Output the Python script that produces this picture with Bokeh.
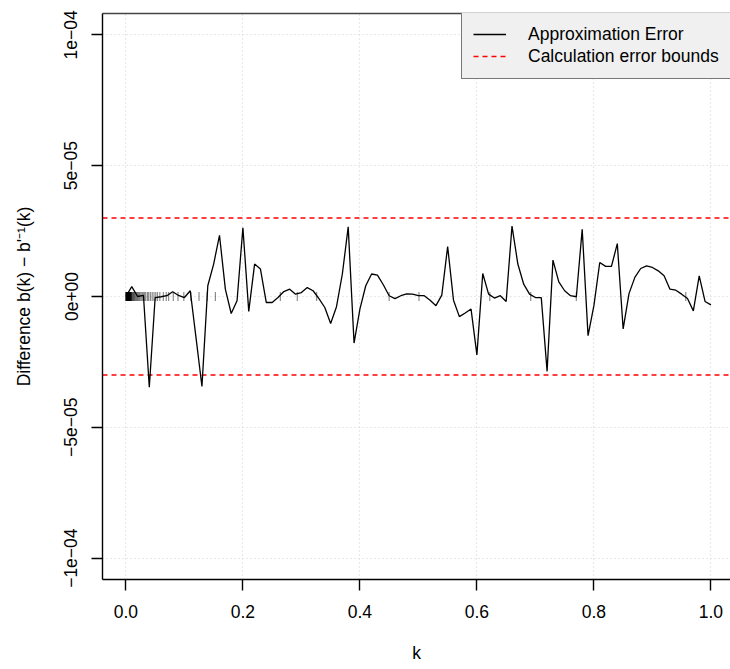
import numpy as np
from bokeh.plotting import figure
from bokeh.models import (FixedTicker, CustomJSTickFormatter, LinearAxis, Legend,
                          LegendItem, Range1d)
from bokeh.embed import file_html
from bokeh.resources import INLINE

# ---------------- data ----------------
k_values = [0.00, 0.01, 0.02, 0.03, 0.04, 0.05, 0.06, 0.07, 0.08, 0.09,
            0.10, 0.11, 0.12, 0.13, 0.14, 0.15, 0.16, 0.17, 0.18, 0.19,
            0.20, 0.21, 0.22, 0.23, 0.24, 0.25, 0.26, 0.27, 0.28, 0.29,
            0.30, 0.31, 0.32, 0.33, 0.34, 0.35, 0.36, 0.37, 0.38, 0.39,
            0.40, 0.41, 0.42, 0.43, 0.44, 0.45, 0.46, 0.47, 0.48, 0.49,
            0.50, 0.51, 0.52, 0.53, 0.54, 0.55, 0.56, 0.57, 0.58, 0.59,
            0.60, 0.61, 0.62, 0.63, 0.64, 0.65, 0.66, 0.67, 0.68, 0.69,
            0.70, 0.71, 0.72, 0.73, 0.74, 0.75, 0.76, 0.77, 0.78, 0.79,
            0.80, 0.81, 0.82, 0.83, 0.84, 0.85, 0.86, 0.87, 0.88, 0.89,
            0.90, 0.91, 0.92, 0.93, 0.94, 0.95, 0.96, 0.97, 0.98, 0.99, 1.00]

# approximation error, in units of 1e-6
error_e6 = [0.0, 3.8, 0.0, 0.4, -34.7, -0.4, -0.1, 0.3, 1.8, 0.4,
            -0.4, 2.2, -16.0, -34.4, 4.1, 12.4, 23.4, 2.8, -6.5, -1.6,
            26.3, -5.7, 12.4, 10.5, -2.3, -2.3, -0.4, 1.9, 2.8, 0.9,
            1.5, 3.4, 2.2, -0.8, -4.2, -10.3, -3.9, 8.6, 26.6, -17.8,
            -4.8, 4.1, 8.6, 8.2, 4.5, 0.3, -0.8, 0.3, 1.0, 0.9,
            0.3, 0.3, -1.4, -3.5, 0.5, 19.1, -1.4, -7.7, -6.3, -4.8,
            -22.3, 8.8, 0.9, -0.6, 0.3, -1.9, 26.9, 12.4, 4.7, 0.9,
            -0.4, -0.4, -28.6, 13.9, 5.6, 2.2, 0.3, -0.1, 25.7, -15.0,
            -3.5, 13.0, 11.5, 11.5, 20.2, -12.4, 1.1, 7.3, 10.7, 11.7,
            11.1, 9.8, 7.9, 2.8, 2.4, 0.9, -0.8, -5.5, 7.9, -1.9, -3.2]

# rug of evaluation nodes along k
rug_k = [0.0000, 0.0003, 0.0005, 0.0008, 0.0010, 0.0013, 0.0015, 0.0018,
         0.0020, 0.0023, 0.0025, 0.0028, 0.0030, 0.0033, 0.0035, 0.0038,
         0.0040, 0.0043, 0.0045, 0.0048, 0.0050, 0.0053, 0.0055, 0.0058,
         0.0060, 0.0063, 0.0065, 0.0068, 0.0070, 0.0073, 0.0075, 0.0078,
         0.0080, 0.0085, 0.0090, 0.0095, 0.0100, 0.0110, 0.0120, 0.0130,
         0.0140, 0.0150, 0.0165, 0.0180, 0.0195, 0.0210, 0.0225, 0.0240,
         0.0260, 0.0280, 0.0300, 0.0320, 0.034, 0.037, 0.039, 0.042, 0.045,
         0.048, 0.051, 0.054, 0.058, 0.064, 0.069, 0.073, 0.081, 0.089,
         0.099, 0.111, 0.125, 0.139, 0.153, 0.264, 0.293, 0.326, 0.450,
         0.501, 0.622, 0.692, 0.770, 0.957]

error_bounds = [3e-5, -3e-5]

x_ticks = [0.0, 0.2, 0.4, 0.6, 0.8, 1.0]
x_tick_labels = ["0.0", "0.2", "0.4", "0.6", "0.8", "1.0"]
y_ticks = [-1e-4, -5e-5, 0.0, 5e-5, 1e-4]
y_tick_labels = ["\u22121e\u221204", "\u22125e\u221205", "0e+00", "5e\u221205", "1e\u221204"]

X_START, X_END = -0.04, 1.0335
Y_START, Y_END = -1.0816e-4, 1.0816e-4

FONT = "Liberation Sans"
FS = "17.5px"

errors = [v * 1e-6 for v in error_e6]

# ---------------- figure ----------------
p = figure(width=730, height=669, output_backend="svg", toolbar_location=None,
           x_range=Range1d(X_START, X_END), y_range=Range1d(Y_START, Y_END),
           min_border_left=102, min_border_right=0, min_border_top=13,
           min_border_bottom=90, x_axis_label="k",
           y_axis_label="Difference b(k) \u2212 b'\u207b\u00b9(k)")
p.outline_line_color = None
p.background_fill_color = "white"
p.border_fill_color = "white"

# grid
p.xgrid.ticker = FixedTicker(ticks=x_ticks)
p.ygrid.ticker = FixedTicker(ticks=y_ticks)
for g in (p.xgrid, p.ygrid):
    g.grid_line_color = "#d3d3d3"
    g.grid_line_dash = "1 3"
    g.grid_line_width = 1.2

# axes
xfmt = CustomJSTickFormatter(args=dict(t=x_ticks, l=x_tick_labels), code="""
const i = t.findIndex(v => Math.abs(v - tick) < 1e-9); return i >= 0 ? l[i] : '';""")
yfmt = CustomJSTickFormatter(args=dict(t=y_ticks, l=y_tick_labels), code="""
const i = t.findIndex(v => Math.abs(v - tick) < 1e-12); return i >= 0 ? l[i] : '';""")

p.xaxis.ticker = FixedTicker(ticks=x_ticks)
p.xaxis.formatter = xfmt
p.yaxis.ticker = FixedTicker(ticks=y_ticks)
p.yaxis.formatter = yfmt
p.yaxis.major_label_orientation = "vertical"

for ax in (p.xaxis, p.yaxis):
    ax.axis_line_color = "black"
    ax.axis_line_width = 1.4
    ax.major_tick_line_color = "black"
    ax.major_tick_line_width = 1.4
    ax.major_tick_out = 11
    ax.major_tick_in = 0
    ax.minor_tick_out = 0
    ax.minor_tick_in = 0
    ax.major_label_text_font = FONT
    ax.major_label_text_font_size = FS
    ax.major_label_text_color = "black"
    ax.axis_label_text_font = FONT
    ax.axis_label_text_font_size = FS
    ax.axis_label_text_font_style = "normal"
    ax.axis_label_text_color = "black"

p.xaxis.major_label_standoff = 14
p.xaxis.axis_label_standoff = 22
p.yaxis.major_label_standoff = 14
p.yaxis.axis_label_standoff = 28

top_axis = LinearAxis(ticker=FixedTicker(ticks=[]), major_tick_out=0, major_tick_in=0,
                      minor_tick_out=0, minor_tick_in=0, major_label_standoff=0,
                      major_label_text_font_size="0px", axis_line_color="#444444",
                      axis_line_width=1.4)
p.add_layout(top_axis, "above")

# bounds
bound_renderers = []
for b in error_bounds:
    r = p.line(x=[X_START, X_END], y=[b, b], line_color="red", line_width=1.4,
               line_dash="5 4")
    bound_renderers.append(r)

# rug
p.scatter(x=rug_k, y=[0.0] * len(rug_k), marker="dash", size=9, angle=np.pi / 2,
          line_color="black", line_alpha=0.45, line_width=1.2)

# approximation error line
r_err = p.line(x=k_values, y=errors, line_color="black", line_width=1.3)

legend = Legend(items=[LegendItem(label="Approximation Error", renderers=[r_err]),
                       LegendItem(label="Calculation error bounds",
                                  renderers=[bound_renderers[0]])],
                location=(359, 500), padding=11, spacing=0, margin=0,
                glyph_width=33, glyph_height=22, label_height=22,
                label_standoff=22, label_text_font=FONT, label_text_font_size=FS,
                label_text_color="black", background_fill_color="#f0f0f0",
                background_fill_alpha=1.0, border_line_color="black",
                border_line_width=1.4)
p.add_layout(legend)

open("out.html", "w").write(file_html(p, INLINE))
